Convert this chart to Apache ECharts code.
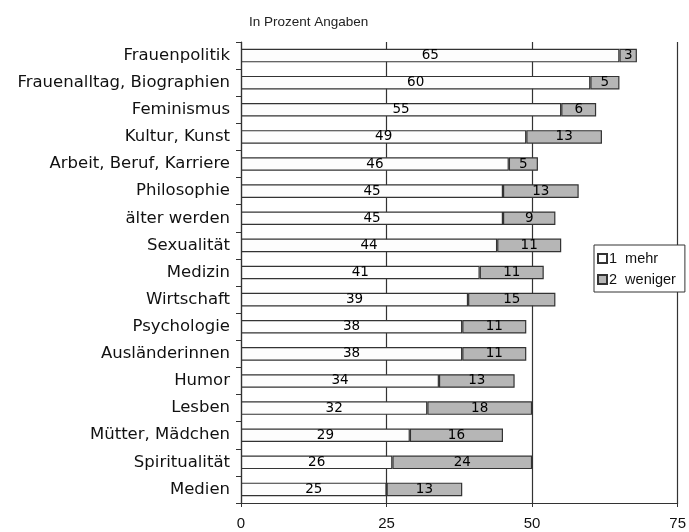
<!DOCTYPE html>
<html>
<head>
<meta charset="utf-8">
<script src="https://cdn.jsdelivr.net/npm/echarts@6/dist/echarts.min.js"></script>
<style>
  html, body { margin: 0; padding: 0; background: #fff; }
  #main { width: 689px; height: 532px; }
</style>
</head>
<body>
<div id="main"></div>
<script>
const categories = [
  'Frauenpolitik', 'Frauenalltag, Biographien', 'Feminismus', 'Kultur, Kunst',
  'Arbeit, Beruf, Karriere', 'Philosophie', 'älter werden', 'Sexualität',
  'Medizin', 'Wirtschaft', 'Psychologie', 'Ausländerinnen', 'Humor',
  'Lesben', 'Mütter, Mädchen', 'Spiritualität', 'Medien'
]
const mehr = [65, 60, 55, 49, 46, 45, 45, 44, 41, 39, 38, 38, 34, 32, 29, 26, 25]
const weniger = [3, 5, 6, 13, 5, 13, 9, 11, 11, 15, 11, 11, 13, 18, 16, 24, 13]
const xTicks = [0, 25, 50, 75]

const font = 'DejaVu Sans, Arial, sans-serif'
const font2 = 'Liberation Sans, Arial, sans-serif'
const dark = '#333'

var myChart = echarts.init(document.getElementById('main'))
myChart.setOption({
  animation: false,
  title: {
    text: 'In Prozent Angaben',
    left: 244,
    top: 10,
    textStyle: { fontFamily: font2, fontSize: 13.5, fontWeight: 'normal', color: '#222' }
  },
  legend: {
    orient: 'vertical',
    left: 594,
    top: 245,
    backgroundColor: '#fff',
    borderColor: dark,
    borderWidth: 1,
    padding: [6, 9, 5, 3],
    itemGap: 6,
    itemWidth: 9,
    itemHeight: 9,
    icon: 'rect',
    textStyle: { fontFamily: font2, fontSize: 14.5, color: '#111', padding: [0, 0, 0, -3] },
    data: ['1  mehr', '2  weniger']
  },
  grid: { left: 241, right: 9, top: 42, bottom: 29 },
  xAxis: {
    type: 'value',
    min: xTicks[0],
    max: xTicks[xTicks.length - 1],
    interval: 25,
    axisLine: { show: true, lineStyle: { color: dark, width: 1.2 } },
    axisTick: { show: true, length: 4, lineStyle: { color: dark } },
    axisLabel: { fontFamily: font2, fontSize: 15, color: '#111', margin: 13 },
    splitLine: { show: true, lineStyle: { color: dark, width: 1.2 } }
  },
  yAxis: {
    type: 'category',
    inverse: true,
    data: categories,
    axisLine: { show: true, lineStyle: { color: dark, width: 1.2 } },
    axisTick: { show: true, length: 5, lineStyle: { color: dark } },
    axisLabel: { fontFamily: font, fontSize: 16.5, color: '#111', margin: 11 }
  },
  series: [
    {
      name: '1  mehr',
      type: 'bar',
      stack: 'a',
      barWidth: '50%',
      data: mehr,
      itemStyle: { color: '#fdfdfd', borderColor: dark, borderWidth: 1.2 },
      label: { show: true, position: 'inside', fontFamily: font, fontSize: 13.5, color: '#000' }
    },
    {
      name: '2  weniger',
      type: 'bar',
      stack: 'a',
      barWidth: '50%',
      data: weniger,
      itemStyle: { color: '#b6b6b6', borderColor: dark, borderWidth: 1.2 },
      label: { show: true, position: 'inside', fontFamily: font, fontSize: 13.5, color: '#000' }
    }
  ]
})
</script>
</body>
</html>
